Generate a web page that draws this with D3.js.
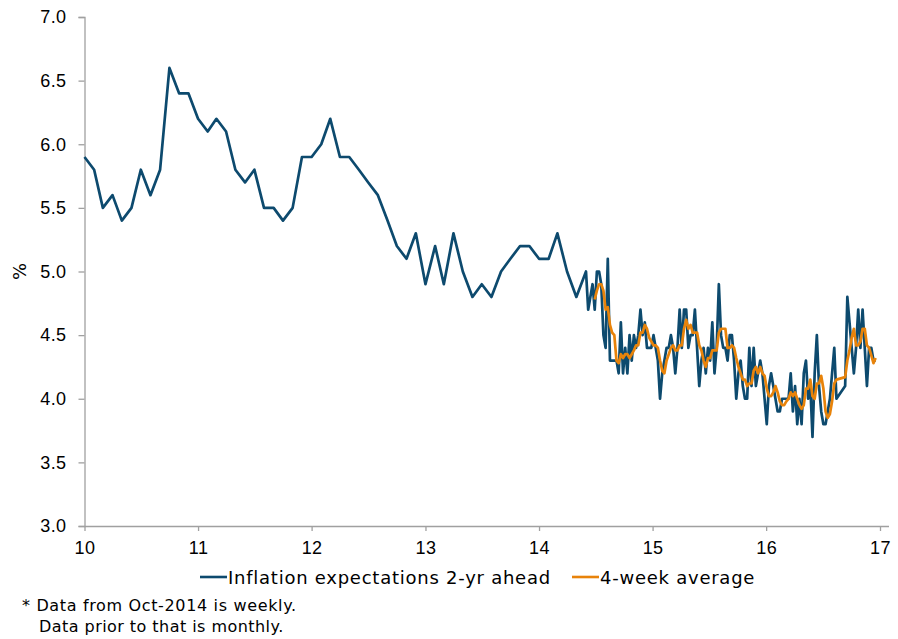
<!DOCTYPE html>
<html>
<head>
<meta charset="utf-8">
<script src="https://cdn.jsdelivr.net/npm/d3@7"></script>
<style>
  body { margin: 0; background: #fff; }
  svg { display: block; font-family: "DejaVu Sans", Verdana, sans-serif; }
</style>
</head>
<body>
<div id="chart"></div>
<script>
// Monthly readings, Jan-2010 to Jun-2014
const monthlyStart = [2010, 0];
const monthlyValues = [
  5.9, 5.8, 5.5, 5.6, 5.4, 5.5, 5.8, 5.6, 5.8, 6.6, 6.4, 6.4,
  6.2, 6.1, 6.2, 6.1, 5.8, 5.7, 5.8, 5.5, 5.5, 5.4, 5.5, 5.9,
  5.9, 6.0, 6.2, 5.9, 5.9, 5.8, 5.7, 5.6, 5.4, 5.2, 5.1, 5.3,
  4.9, 5.2, 4.9, 5.3, 5.0, 4.8, 4.9, 4.8, 5.0, 5.1, 5.2, 5.2,
  5.1, 5.1, 5.3, 5.0, 4.8, 5.0
];

// Weekly readings (null = no survey that week)
const weeklyStart = "2014-06-08";
const weeklyValues = [
  4.7, 4.8, 4.9, 4.7, 5.0, 5.0, 4.9, 4.5, 4.4, 5.1,
  4.3, 4.3, 4.3, 4.3, 4.2, 4.6, 4.2, 4.4, 4.2, 4.5,
  4.3, 4.5, 4.4, 4.5, 4.7, 4.5, 4.6, 4.4, 4.4, 4.4,
  4.5, 4.4, 4.3, 4.0, 4.2, 4.3, 4.4, 4.4, 4.5, 4.4,
  4.2, 4.4, 4.7, 4.4, 4.7, 4.7, 4.4, 4.5, 4.5, 4.7,
  4.4, 4.1, 4.3, 4.4, 4.2, 4.4, 4.3, 4.6, 4.2, 4.4,
  4.9, 4.5, 4.4, 4.4, 4.3, 4.5, 4.5, 4.3, 4.0, 4.2,
  4.3, 4.1, 4.0, 4.0, 4.4, 4.1, 4.4, 4.1, 4.2, 4.3,
  4.2, 4.0, 3.8, 4.1, 4.2, 4.1, 4.0, 3.9, 3.9, 4.0,
  4.0, 4.0, 4.0, 4.2, 3.9, 4.1, 3.8, 4.0, 3.8, 4.2,
  4.3, 4.0, 4.1, 3.7, 4.2, 4.5, 4.1, 3.9, 3.8, 3.8,
  3.9, 4.0, 4.2, 4.4, 4.0, null, null, null, 4.1, 4.8,
  4.6, 4.4, 4.2, 4.4, 4.7, 4.4, 4.7, 4.4, 4.1, 4.4,
  4.4, 4.3, 4.3
];

// 4-week average, same weeks as above
const avgValues = [
  null, null, null, 4.78, 4.85, 4.90, 4.90, 4.85, 4.70, 4.72,
  4.58, 4.52, 4.50, 4.30, 4.28, 4.35, 4.32, 4.35, 4.35, 4.32,
  4.35, 4.38, 4.42, 4.42, 4.52, 4.52, 4.58, 4.55, 4.48, 4.45,
  4.42, 4.42, 4.40, 4.30, 4.22, 4.20, 4.30, 4.35, 4.40, 4.42,
  4.38, 4.38, 4.42, 4.42, 4.55, 4.62, 4.55, 4.58, 4.52, 4.52,
  4.52, 4.42, 4.38, 4.30, 4.25, 4.32, 4.32, 4.38, 4.38, 4.38,
  4.52, 4.55, 4.55, 4.55, 4.40, 4.40, 4.42, 4.40, 4.32, 4.25,
  4.20, 4.15, 4.15, 4.10, 4.12, 4.12, 4.22, 4.25, 4.20, 4.25,
  4.20, 4.18, 4.08, 4.02, 4.02, 4.05, 4.10, 4.05, 3.98, 3.95,
  3.95, 3.98, 4.00, 4.05, 4.02, 4.05, 4.00, 3.95, 3.92, 3.95,
  4.08, 4.08, 4.15, 4.02, 4.00, 4.12, 4.12, 4.18, 4.08, 3.90,
  3.85, 3.88, 3.98, 4.12, 4.15, null, null, null, 4.17, 4.30,
  4.38, 4.48, 4.55, 4.42, 4.42, 4.45, 4.55, 4.55, 4.42, 4.40,
  4.34, 4.28, 4.32
];

const yTicks = [3.0, 3.5, 4.0, 4.5, 5.0, 5.5, 6.0, 6.5, 7.0];
const xYears = [2010, 2011, 2012, 2013, 2014, 2015, 2016, 2017];

const seriesNames = ["Inflation expectations 2-yr ahead", "4-week average"];
const colors = ["#0d4a6e", "#e8830a"];

const width = 898, height = 639;
const plotLeft = 84.5, plotRight = 880, plotTop = 17, plotBottom = 526;

const svg = d3.select("#chart").append("svg")
  .attr("width", width)
  .attr("height", height);

const x = d3.scaleTime()
  .domain([new Date(xYears[0], 0, 1), new Date(xYears[xYears.length - 1], 0, 1)])
  .range([plotLeft, plotRight]);

const y = d3.scaleLinear()
  .domain([yTicks[0], yTicks[yTicks.length - 1]])
  .range([plotBottom, plotTop]);

// build the point lists
const monthly = monthlyValues.map((v, i) => ({
  date: new Date(monthlyStart[0], monthlyStart[1] + i, 1), v
}));
const w0 = d3.timeParse("%Y-%m-%d")(weeklyStart);
const weekDate = i => d3.timeDay.offset(w0, i * 7);
const weekly = weeklyValues.map((v, i) => ({ date: weekDate(i), v }));
const avg = avgValues.map((v, i) => ({ date: weekDate(i), v }));

const mainSeries = monthly.concat(weekly).filter(d => d.v != null);
const avgSeries = avg.filter(d => d.v != null);

const axisColor = "#a0a0a0";

// y axis
const yAxis = svg.append("g")
  .attr("transform", `translate(${plotLeft},0)`)
  .call(d3.axisLeft(y).tickValues(yTicks).tickFormat(d3.format(".1f")).tickSize(6).tickPadding(12));
// x axis
const xAxis = svg.append("g")
  .attr("transform", `translate(0,${plotBottom})`)
  .call(d3.axisBottom(x)
    .tickValues(xYears.map(yr => new Date(yr, 0, 1)))
    .tickFormat(d3.timeFormat("%y"))
    .tickSize(5).tickPadding(10));

[yAxis, xAxis].forEach(g => {
  g.selectAll("line, path").attr("stroke", axisColor).attr("stroke-width", 1.3);
  g.selectAll("text").attr("fill", "#000").style("font-size", "18px").style("letter-spacing", "0.4px");
});
xAxis.select(".domain").attr("d", `M${plotLeft},0.5H889`);

svg.append("text")
  .attr("transform", `translate(26,${(plotTop + plotBottom) / 2}) rotate(-90)`)
  .attr("text-anchor", "middle")
  .style("font-size", "18px")
  .text("%");

const line = d3.line()
  .x(d => x(d.date))
  .y(d => y(d.v))
  .curve(d3.curveLinear);

svg.append("path")
  .datum(mainSeries)
  .attr("fill", "none")
  .attr("stroke", colors[0])
  .attr("stroke-width", 2.7)
  .attr("stroke-linejoin", "round")
  .attr("d", line);

svg.append("path")
  .datum(avgSeries)
  .attr("fill", "none")
  .attr("stroke", colors[1])
  .attr("stroke-width", 2.7)
  .attr("stroke-linejoin", "round")
  .attr("d", line);

// legend
const legendX = [200, 572];
seriesNames.forEach((name, i) => {
  const g = svg.append("g").attr("transform", `translate(${legendX[i]},577)`);
  g.append("line")
    .attr("x1", 0).attr("x2", 27)
    .attr("stroke", colors[i]).attr("stroke-width", 2.6);
  g.append("text")
    .attr("x", 28).attr("y", 6.5)
    .style("font-size", "18px")
    .style("letter-spacing", "0.75px")
    .text(name);
});

// footnote
svg.append("text").attr("x", 22).attr("y", 611).style("font-size", "16px")
  .style("letter-spacing", "0.65px")
  .text("* Data from Oct-2014 is weekly.");
svg.append("text").attr("x", 39).attr("y", 632).style("font-size", "16px")
  .style("letter-spacing", "0.45px")
  .text("Data prior to that is monthly.");
</script>
</body>
</html>
